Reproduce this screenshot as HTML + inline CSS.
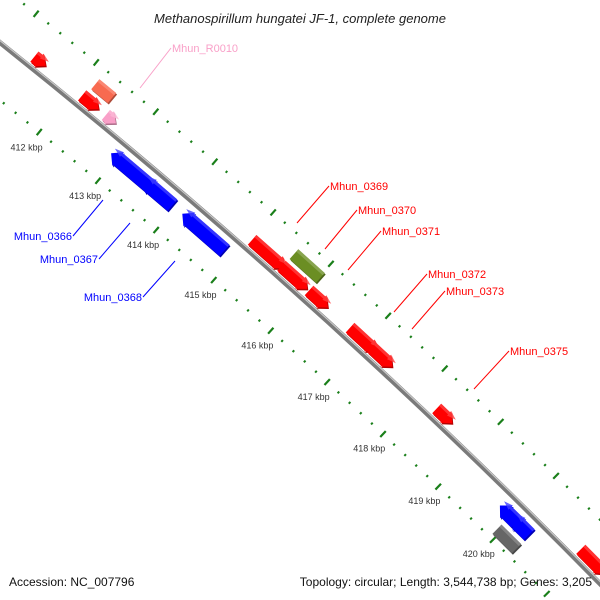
<!DOCTYPE html>
<html><head><meta charset="utf-8"><style>
html,body{margin:0;padding:0;background:#fff;width:600px;height:600px;overflow:hidden;}
svg{display:block;font-family:"Liberation Sans",sans-serif;overflow:hidden;}
</style></head><body>
<svg id="map" width="600" height="600" viewBox="0 0 600 600">
<g id="ticks"></g>
<g id="bb"></g>
<g id="feats"></g>
<g id="labels"></g>
<text x="300" y="23" text-anchor="middle" font-size="13" font-style="italic" fill="#222">Methanospirillum hungatei JF-1, complete genome</text>
<text x="9" y="586" font-size="12" fill="#111">Accession: NC_007796</text>
<text x="592" y="586" font-size="12" text-anchor="end" fill="#111">Topology: circular; Length: 3,544,738 bp; Genes: 3,205</text>
</svg>
<script>
// data
const tickLabels = [412,413,414,415,416,417,418,419,420];
const featStart = [411.33,412.17,412.13,412.53,412.90,413.46,414.12,415.03,415.56,415.54,416.02,416.74,417.12,418.28,419.75,419.98,419.94,420.90];
const featEnd   = [411.52,412.45,412.41,412.70,413.55,413.95,414.85,415.59,416.02,415.99,416.35,417.20,417.49,418.56,420.06,420.29,420.30,421.35];
const featStrand= [1,0,1,1,-1,-1,-1,1,0,1,1,1,1,1,-1,-1,0,1];
const featTrack = [1,2,1,1,-1,-1,-1,1,2,1,1,1,1,1,-1,-1,-2,1];
const featColor = ["#ff0000","#f86a50","#ff0000","#f9a0c8","#0000ff","#0000ff","#0000ff","#ff0000","#6b8e23","#ff0000","#ff0000","#ff0000","#ff0000","#ff0000","#0000ff","#0000ff","#666666","#ff0000"];
const geneNames = ["Mhun_R0010","Mhun_0369","Mhun_0370","Mhun_0371","Mhun_0372","Mhun_0373","Mhun_0375","Mhun_0366","Mhun_0367","Mhun_0368"];
const geneNameColor = ["#f9a0c8","#ff0000","#ff0000","#ff0000","#ff0000","#ff0000","#ff0000","#0000ff","#0000ff","#0000ff"];

const NS="http://www.w3.org/2000/svg";
const CX=-4117, CY=5210, R=6607;
function ang(p){return (-50.70+(p-412)*0.666)*Math.PI/180;}
function pt(p,r){const a=ang(p);return [CX+r*Math.cos(a), CY+r*Math.sin(a)];}
function mk(tag,attrs,parent){const e=document.createElementNS(NS,tag);for(const k in attrs)e.setAttribute(k,attrs[k]);parent.appendChild(e);return e;}

// backbone
const bb=document.getElementById('bb');
function arcPath(p1,p2,r){const a=pt(p1,r),b=pt(p2,r);return `M${a[0]},${a[1]} A${r},${r} 0 0 1 ${b[0]},${b[1]}`;}
let e=mk('path',{d:arcPath(405,426,R),stroke:'#7a7a7a','stroke-width':5,fill:'none'},bb);


e=mk('path',{d:arcPath(405,426,R+1.5),stroke:'#c8c8c8','stroke-width':1.2,fill:'none'},bb);



// ticks
const tg=document.getElementById('ticks');
for(let i=4050;i<=4260;i+=2){
  const p=i/10;
  const major = (i%10===0);
  [R-45,R+45].forEach(r=>{
    if(major){
      const a=pt(p,r-4),b=pt(p,r+4);
      const l=mk('line',{x1:a[0],y1:a[1],x2:b[0],y2:b[1],stroke:'#1a7f1a','stroke-width':2.2},tg);
      
      
    } else {
      const a=pt(p,r-1.2),b=pt(p,r+1.2);
      const l=mk('line',{x1:a[0],y1:a[1],x2:b[0],y2:b[1],stroke:'#1a7f1a','stroke-width':2},tg);
      
      
    }
  });
}
tickLabels.forEach(k=>{
  const a=pt(k,R-65);
  const t=mk('text',{x:a[0],y:a[1]+3,'font-size':9,'text-anchor':'middle',fill:'#333'},tg);
  t.textContent=k+' kbp';
  
  
});

// features
const fg=document.getElementById('feats');
function shade(c,f){const n=parseInt(c.slice(1),16);let r=n>>16,g=(n>>8)&255,b=n&255;
  const m=v=>Math.max(0,Math.min(255,Math.round(f>1?v+(255-v)*(f-1):v*f)));return `rgb(${m(r)},${m(g)},${m(b)})`;}
function featPath(s,e2,r1,r2,strand){
  const head=Math.min(0.12,(e2-s));const rm=(r1+r2)/2;const ext=1.5;
  let pts=[];
  if(strand===1){
    const b=e2-head;
    pts=[pt(s,r1),pt(s,r2),pt(b,r2),pt(b,r2+ext),pt(e2,rm),pt(b,r1-ext),pt(b,r1)];
  } else if(strand===-1){
    const b=s+head;
    pts=[pt(e2,r1),pt(e2,r2),pt(b,r2),pt(b,r2+ext),pt(s,rm),pt(b,r1-ext),pt(b,r1)];
  } else {
    pts=[pt(s,r1),pt(s,r2),pt(e2,r2),pt(e2,r1)];
  }
  return 'M'+pts.map(q=>q[0].toFixed(1)+','+q[1].toFixed(1)).join(' L')+' Z';
}
const trackR={1:[R+4,R+17],2:[R+21,R+34],'-1':[R-23,R-8],'-2':[R-41,R-28]};
featStart.forEach((s,i)=>{
  const [r1,r2]=trackR[featTrack[i]];
  const g=mk('g',{},fg);
  
  
  const d=featPath(s,featEnd[i],r1,r2,featStrand[i]);
  mk('path',{d:d,fill:shade(featColor[i],0.7),transform:'translate(1,1.5)'},g);
  mk('path',{d:d,fill:featColor[i]},g);
  mk('path',{d:featPath(s,featEnd[i],r2-3,r2,featStrand[i]===0?0:featStrand[i]),fill:shade(featColor[i],1.25),opacity:0.8},g);
});

// gene labels
const lg=document.getElementById('labels');
const labX=[172,330,358,382,428,446,510,72,98,142];
const labY=[52,190,214,235,278,295,355,240,263,301];
const lineTo=[[140,88],[297,223],[325,249],[348,270],[394,312],[412,329],[474,389],[103,200],[130,223],[175,261]];
geneNames.forEach((n,i)=>{
  const right=i>=7;
  const x0=right?labX[i]+1:labX[i]-1, y0=labY[i]-4;
  const l=mk('line',{x1:x0,y1:y0,x2:lineTo[i][0],y2:lineTo[i][1],stroke:geneNameColor[i],'stroke-width':1},lg);
  
  
  const t=mk('text',{x:labX[i],y:labY[i],'font-size':11,fill:geneNameColor[i],'text-anchor':right?'end':'start'},lg);
  t.textContent=n;
  
  
});
</script>
</body></html>
